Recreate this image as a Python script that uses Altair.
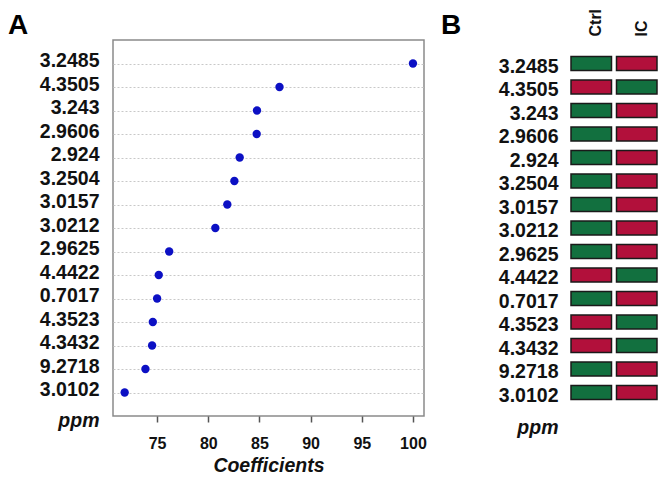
import altair as alt
import pandas as pd

ppm = ["3.2485", "4.3505", "3.243", "2.9606", "2.924", "3.2504", "3.0157",
       "3.0212", "2.9625", "4.4422", "0.7017", "4.3523", "4.3432", "9.2718", "3.0102"]
coef = [100.0, 86.96, 84.76, 84.73, 83.07, 82.55, 81.86, 80.69, 76.18, 75.16,
        75.0, 74.58, 74.51, 73.86, 71.83]
ctrl_state = ["up", "down", "up", "up", "up", "up", "up", "up", "up", "down",
              "up", "down", "down", "up", "up"]
ic_state = ["down" if s == "up" else "up" for s in ctrl_state]
groups = ["Ctrl", "IC"]
x_ticks = [75, 80, 85, 90, 95, 100]

FONT = "Liberation Sans"
W_A, H = 311, 376
W_B = 86

df_a = pd.DataFrame({"ppm": ppm, "coef": coef})
rows = []
for p, c, i in zip(ppm, ctrl_state, ic_state):
    rows.append({"ppm": p, "group": "Ctrl", "state": c})
    rows.append({"ppm": p, "group": "IC", "state": i})
df_b = pd.DataFrame(rows)

ppm_title_a = alt.Axis(
    title="ppm", titleAngle=0, titleAlign="right", titleBaseline="middle",
    titleX=-14, titleY=380, titleFont=FONT, titleFontSize=19.5,
    titleFontStyle="italic", titleFontWeight="bold", titleColor="#111",
    labelFont=FONT, labelFontSize=19.5, labelFontWeight="bold", labelColor="#111",
    labelPadding=14, labelOffset=-3, ticks=False, domain=False,
    grid=True, gridDash=[2, 2], gridColor="#c8c8c8", gridWidth=1,
)

points = alt.Chart(df_a).mark_circle(size=70, color="#0c10c4", opacity=1).encode(
    x=alt.X("coef:Q",
            scale=alt.Scale(domain=[70.69, 101.08], nice=False, zero=False),
            axis=alt.Axis(values=x_ticks, title="Coefficients", grid=False,
                          domain=False, tickSize=6, tickColor="#555", tickWidth=1.5,
                          labelFont=FONT, labelFontSize=16, labelFontWeight="bold",
                          labelColor="#111", labelPadding=13,
                          titleFont=FONT, titleFontSize=19.5, titleFontWeight="bold",
                          titleFontStyle="italic", titleColor="#111", titlePadding=5)),
    y=alt.Y("ppm:N", sort=ppm, scale=alt.Scale(type="point", padding=1),
            axis=ppm_title_a),
)

label_a = alt.Chart(pd.DataFrame({"t": ["A"]})).mark_text(
    font=FONT, fontSize=28, fontWeight="bold", align="left", baseline="top",
    color="#000").encode(text="t:N", x=alt.value(-105), y=alt.value(-28))

panel_a = alt.layer(points, label_a).properties(
    width=W_A, height=H,
    view=alt.ViewBackground(stroke="#8a8a8a", strokeWidth=1.5),
)

ppm_title_b = alt.Axis(
    title="ppm", titleAngle=0, titleAlign="right", titleBaseline="middle",
    titleX=-13, titleY=387, titleFont=FONT, titleFontSize=19.5,
    titleFontStyle="italic", titleFontWeight="bold", titleColor="#111",
    labelFont=FONT, labelFontSize=19.5, labelFontWeight="bold", labelColor="#111",
    labelPadding=13, labelOffset=3, ticks=False, domain=False, grid=False,
)

rects = alt.Chart(df_b).mark_rect(stroke="#1a1a1a", strokeWidth=1.5).encode(
    x=alt.X("group:N", sort=groups,
            scale=alt.Scale(domain=groups, paddingInner=5 / 45.5, paddingOuter=0),
            axis=alt.Axis(orient="top", title=None, labelAngle=-90,
                          labelAlign="left", labelBaseline="middle",
                          labelPadding=4, labelOffset=5, ticks=False, domain=False,
                          labelFont=FONT, labelFontSize=16, labelFontWeight="bold",
                          labelColor="#111")),
    y=alt.Y("ppm:N", sort=ppm,
            scale=alt.Scale(type="band", paddingInner=0.4, paddingOuter=0.7),
            axis=ppm_title_b),
    color=alt.Color("state:N", scale=alt.Scale(domain=["up", "down"],
                                               range=["#12703f", "#b2103b"]),
                    legend=None),
)

label_b = alt.Chart(pd.DataFrame({"t": ["B"]})).mark_text(
    font=FONT, fontSize=28, fontWeight="bold", align="left", baseline="top",
    color="#000").encode(text="t:N", x=alt.value(-130), y=alt.value(-28))

panel_b = alt.layer(rects, label_b).properties(
    width=W_B, height=H,
    view=alt.ViewBackground(stroke="transparent"),
)

chart = alt.hconcat(panel_a, panel_b, spacing=147, bounds="flush").properties(
    autosize=alt.AutoSizeParams(type="none"),
    padding={"left": 105, "top": 32, "right": 545, "bottom": 432},
).configure(background="white")

chart.save("out.html", embed_options={"renderer": "svg", "actions": False})
